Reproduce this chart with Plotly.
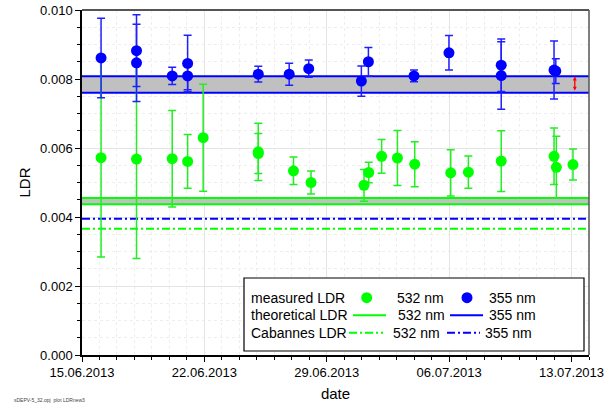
import plotly.graph_objects as go

# Datos medidos 532 nm
fechas_532 = ['2013-06-16 02:10', '2013-06-18 02:50', '2013-06-20 03:50', '2013-06-21 01:00',
              '2013-06-21 22:20', '2013-06-25 02:00', '2013-06-25 02:00', '2013-06-27 02:20',
              '2013-06-28 02:25', '2013-07-01 03:10', '2013-07-01 09:35', '2013-07-02 03:20',
              '2013-07-03 01:00', '2013-07-04 00:45', '2013-07-06 02:10', '2013-07-07 02:25',
              '2013-07-08 23:30', '2013-07-12 00:00', '2013-07-12 03:10', '2013-07-13 02:00']
ldr_532 = [0.00572, 0.00568, 0.00569, 0.00561, 0.00630, 0.00589, 0.00584, 0.00534, 0.00500, 0.00492,
           0.00529, 0.00576, 0.00571, 0.00553, 0.00528, 0.00530, 0.00562, 0.00576, 0.00544, 0.00552]
err_532 = [0.00288, 0.00288, 0.00140, 0.00078, 0.00155, 0.00083, 0.00058, 0.00040, 0.00033, 0.00046,
           0.00030, 0.00049, 0.00080, 0.00065, 0.00067, 0.00047, 0.00088, 0.00082, 0.00090, 0.00045]

# Datos medidos 355 nm
fechas_355 = ['2013-06-16 02:10', '2013-06-18 02:50', '2013-06-18 02:50', '2013-06-20 03:50',
              '2013-06-21 01:00', '2013-06-21 01:00', '2013-06-25 02:00', '2013-06-26 20:25',
              '2013-06-27 23:15', '2013-06-30 23:30', '2013-07-01 09:10', '2013-07-03 23:45',
              '2013-07-05 23:45', '2013-07-08 23:30', '2013-07-08 23:30', '2013-07-12 00:00',
              '2013-07-12 02:25']
ldr_355 = [0.00861, 0.00882, 0.00847, 0.00809, 0.00845, 0.00809, 0.00814, 0.00814, 0.00830,
           0.00794, 0.00850, 0.00809, 0.00876, 0.00840, 0.00810, 0.00826, 0.00823]
err_355 = [0.00115, 0.00104, 0.00112, 0.00025, 0.00082, 0.00040, 0.00023, 0.00032, 0.00025,
           0.00044, 0.00041, 0.00017, 0.00050, 0.00076, 0.00098, 0.00084, 0.00036]

# Valores teoricos (banda) y Cabannes
rango_x = ['2013-06-15', '2013-07-14']
teorico_355 = [0.00760, 0.00808]
teorico_532 = [0.00437, 0.00455]
cabannes_355 = 0.00395
cabannes_532 = 0.00366
flecha_fecha = '2013-07-13 04:30'

AZUL = '#0000ff'
VERDE = '#00ff00'
FUENTE = 'Liberation Sans, Arial, sans-serif'

fig = go.Figure()

# Bandas teoricas
for banda, color in [(teorico_532, VERDE), (teorico_355, AZUL)]:
    fig.add_trace(go.Scatter(x=rango_x, y=[banda[0]] * 2, mode='lines',
                             line=dict(color=color, width=2), showlegend=False, hoverinfo='skip'))
    fig.add_trace(go.Scatter(x=rango_x, y=[banda[1]] * 2, mode='lines', fill='tonexty',
                             fillcolor='#c0c0c0', line=dict(color=color, width=2),
                             showlegend=False, hoverinfo='skip'))

# Lineas de Cabannes
for valor, color in [(cabannes_355, AZUL), (cabannes_532, VERDE)]:
    fig.add_trace(go.Scatter(x=rango_x, y=[valor] * 2, mode='lines',
                             line=dict(color=color, width=2, dash='8px,3px,2px,3px'),
                             showlegend=False, hoverinfo='skip'))

# Puntos medidos
fig.add_trace(go.Scatter(x=fechas_532, y=ldr_532, mode='markers',
                         marker=dict(color=VERDE, size=11),
                         error_y=dict(type='data', array=err_532, color='#22ee22', thickness=1.5, width=4),
                         showlegend=False))
fig.add_trace(go.Scatter(x=fechas_355, y=ldr_355, mode='markers',
                         marker=dict(color=AZUL, size=11),
                         error_y=dict(type='data', array=err_355, color='#2020ff', thickness=1.5, width=4),
                         showlegend=False))

# Flecha roja (ancho de la banda)
fig.add_annotation(x=flecha_fecha, y=teorico_355[1] - 0.00001, ax=flecha_fecha, ay=teorico_355[0] + 0.00002,
                   xref='x', yref='y', axref='x', ayref='y', text='', showarrow=True,
                   arrowhead=2, arrowside='end+start', arrowsize=0.6, arrowwidth=1.3, arrowcolor='red')

# Leyenda manual
def px(x):
    return (x - 82) / 507.0

def py(y):
    return (355 - y) / 345.0

shapes = [
    dict(type='rect', xref='paper', yref='paper', x0=px(244), x1=px(584), y0=py(351), y1=py(278),
         line=dict(color='black', width=1.2), fillcolor='white', layer='above'),
    # marco superior / derecho
    dict(type='line', xref='paper', yref='paper', x0=0, x1=1, y0=1, y1=1, line=dict(color='#555555', width=2)),
    dict(type='line', xref='paper', yref='paper', x0=1, x1=1, y0=0, y1=1, line=dict(color='#555555', width=1.5)),
]
filas = [297.7, 315.3, 332.7]
for xc, color in [(366.7, VERDE), (467, AZUL)]:
    shapes.append(dict(type='circle', xref='paper', yref='paper', xsizemode='pixel', ysizemode='pixel',
                       xanchor=px(xc), yanchor=py(filas[0]), x0=-5.5, x1=5.5, y0=-5.5, y1=5.5,
                       fillcolor=color, line=dict(color=color, width=0), layer='above'))
for x0, x1, color in [(353, 386, VERDE), (450, 483, AZUL)]:
    shapes.append(dict(type='line', xref='paper', yref='paper', x0=px(x0), x1=px(x1),
                       y0=py(filas[1]), y1=py(filas[1]), line=dict(color=color, width=2), layer='above'))
for x0, x1, color in [(349, 383, VERDE), (447, 480, AZUL)]:
    shapes.append(dict(type='line', xref='paper', yref='paper', x0=px(x0), x1=px(x1),
                       y0=py(filas[2]), y1=py(filas[2]),
                       line=dict(color=color, width=2, dash='8px,3px,2px,3px'), layer='above'))
fig.update_layout(shapes=shapes)

textos = [('measured LDR', 249, filas[0]), ('theoretical LDR', 249, filas[1]), ('Cabannes LDR', 249, filas[2]),
          ('532 nm', 395, filas[0]), ('532 nm', 396, filas[1]), ('532 nm', 391, filas[2]),
          ('355 nm', 487, filas[0]), ('355 nm', 487, filas[1]), ('355 nm', 483, filas[2])]
for texto, x, y in textos:
    fig.add_annotation(text=texto, x=px(x), y=py(y), xref='paper', yref='paper', showarrow=False,
                       xanchor='left', yanchor='middle', font=dict(size=14, color='black', family=FUENTE))

fig.add_annotation(text='sDEPV-5_32.opj  plot LDRnew3', x=px(12), y=py(400), xref='paper', yref='paper',
                   showarrow=False, xanchor='left', yanchor='middle',
                   font=dict(size=5, color='#444444', family=FUENTE))

fig.update_layout(
    width=613, height=406,
    margin=dict(l=82, r=24, t=10, b=51, autoexpand=False),
    plot_bgcolor='white', paper_bgcolor='white',
    font=dict(family=FUENTE, color='black', size=13),
    showlegend=False,
    xaxis=dict(
        type='date', range=rango_x, tick0='2013-06-15', dtick=7 * 86400000,
        tickformat='%d.%m.%Y', ticks='outside', ticklen=5, tickcolor='black',
        showline=True, linecolor='black', linewidth=1.5,
        showgrid=True, gridcolor='#e4e4e4', gridwidth=1,
        minor=dict(dtick=86400000, ticks='outside', ticklen=3, tickcolor='black',
                   showgrid=True, gridcolor='#eeeeee', griddash='dot'),
        title=dict(text='date', font=dict(size=15), standoff=9),
        automargin=False, zeroline=False,
    ),
    yaxis=dict(
        range=[0, 0.010], dtick=0.002, tickformat='.3f',
        ticks='outside', ticklen=5, tickcolor='black',
        showline=True, linecolor='black', linewidth=1.5,
        showgrid=True, gridcolor='#e4e4e4', gridwidth=1,
        minor=dict(dtick=0.0005, ticks='outside', ticklen=3, tickcolor='black',
                   showgrid=True, gridcolor='#eeeeee', griddash='dot'),
        title=dict(text='LDR', font=dict(size=15), standoff=6),
        automargin=False, zeroline=False,
    ),
)

# quitar el margen por defecto del body para que la figura empiece en (0, 0)
fig.write_html('out.html', config={'displayModeBar': False},
               post_script="document.body.style.margin='0';")
